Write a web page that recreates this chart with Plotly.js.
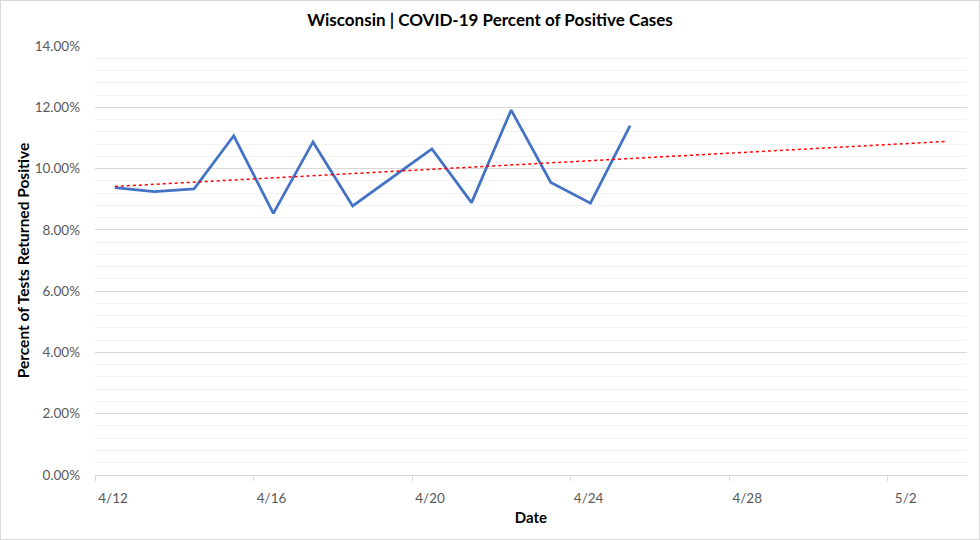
<!DOCTYPE html>
<html>
<head>
<meta charset="utf-8">
<script src="https://cdn.plot.ly/plotly-3.0.1.min.js"></script>
<style>
  html, body { margin: 0; padding: 0; background: #fff; }
  #wrap { width: 980px; height: 540px; box-sizing: border-box; border: 1px solid #d9d9d9; }
  #chart { width: 978px; height: 538px; }
</style>
</head>
<body>
<div id="wrap"><div id="chart"></div></div>
<script>
// Dates of observations
const dates = ['2020-04-12','2020-04-13','2020-04-14','2020-04-15','2020-04-16','2020-04-17','2020-04-18',
               '2020-04-19','2020-04-20','2020-04-21','2020-04-22','2020-04-23','2020-04-24','2020-04-25'];
// Percent of tests returned positive (fraction)
const positiveRate = [0.0938,0.0925,0.0934,0.1107,0.0854,0.1087,0.0878,
                      0.0972,0.1064,0.0889,0.1191,0.0955,0.0887,0.1140];
// Trendline forecast: number of days forward beyond the last observation
const forecastDays = 8;
// Axis ticks
const tickDates = ['2020-04-11 12:00','2020-04-15 12:00','2020-04-19 12:00','2020-04-23 12:00','2020-04-27 12:00','2020-05-01 12:00'];
const tickLabels = ['4/12','4/16','4/20','4/24','4/28','5/2'];

// Linear least squares trendline over day index
const n = positiveRate.length;
const xs = positiveRate.map((_, i) => i);
const mx = xs.reduce((a, b) => a + b, 0) / n;
const my = positiveRate.reduce((a, b) => a + b, 0) / n;
let sxy = 0, sxx = 0;
for (let i = 0; i < n; i++) { sxy += (xs[i] - mx) * (positiveRate[i] - my); sxx += (xs[i] - mx) ** 2; }
const slope = sxy / sxx, intercept = my - slope * mx;
const DAY = 86400000;
const t0 = new Date(dates[0] + 'T00:00:00Z').getTime();
const lastIdx = n - 1 + forecastDays;
const trendX = [dates[0], new Date(t0 + lastIdx * DAY).toISOString().slice(0, 10)];
const trendY = [intercept, intercept + slope * lastIdx];

const font = 'Lato, "Open Sans", sans-serif';
const data = [
  { x: dates, y: positiveRate, type: 'scatter', mode: 'lines',
    line: { color: '#4472C4', width: 2.75 }, hoverinfo: 'x+y', showlegend: false },
  { x: trendX, y: trendY, type: 'scatter', mode: 'lines',
    line: { color: '#FF0000', width: 1.5, dash: 'dot' }, showlegend: false }
];

const layout = {
  width: 978, height: 538,
  margin: { l: 94, r: 12, t: 45, b: 64 },
  paper_bgcolor: '#ffffff', plot_bgcolor: '#ffffff',
  font: { family: font, color: '#595959', size: 13 },
  title: { text: '<b>Wisconsin | COVID-19 Percent of Positive Cases</b>',
           font: { family: font, size: 17, color: '#000000' },
           x: 0.5, xanchor: 'center', y: 1 - 19 / 538, yanchor: 'middle', yref: 'container' },
  xaxis: {
    type: 'date',
    range: ['2020-04-11 12:00', '2020-05-03 12:00'],
    tickmode: 'array', tickvals: tickDates, ticktext: tickLabels,
    ticks: 'outside', ticklen: 5, tickcolor: '#d9d9d9', tickwidth: 1,
    ticklabelshift: 18, ticklabelstandoff: 6,
    showgrid: false, zeroline: false,
    showline: true, linecolor: '#d9d9d9', linewidth: 1,
    tickfont: { family: font, size: 13.5, color: '#595959' },
    title: { text: '<b>Date</b>', font: { family: font, size: 15, color: '#000000' }, standoff: 7 }
  },
  yaxis: {
    range: [0, 0.14],
    tickmode: 'linear', tick0: 0, dtick: 0.02,
    tickformat: '.2%',
    ticks: '', ticklabelstandoff: 14,
    showgrid: true, gridcolor: '#d9d9d9', gridwidth: 1,
    zeroline: false, showline: false,
    minor: { dtick: 0.004, showgrid: true, gridcolor: '#f2f2f2', gridwidth: 1, ticks: '' },
    tickfont: { family: font, size: 13.5, color: '#595959' },
    title: { text: '<b>Percent of Tests Returned Positive</b>', font: { family: font, size: 15.5, color: '#000000' }, standoff: 1 }
  }
};

Plotly.newPlot('chart', data, layout, { displayModeBar: false, staticPlot: true });
</script>
</body>
</html>
